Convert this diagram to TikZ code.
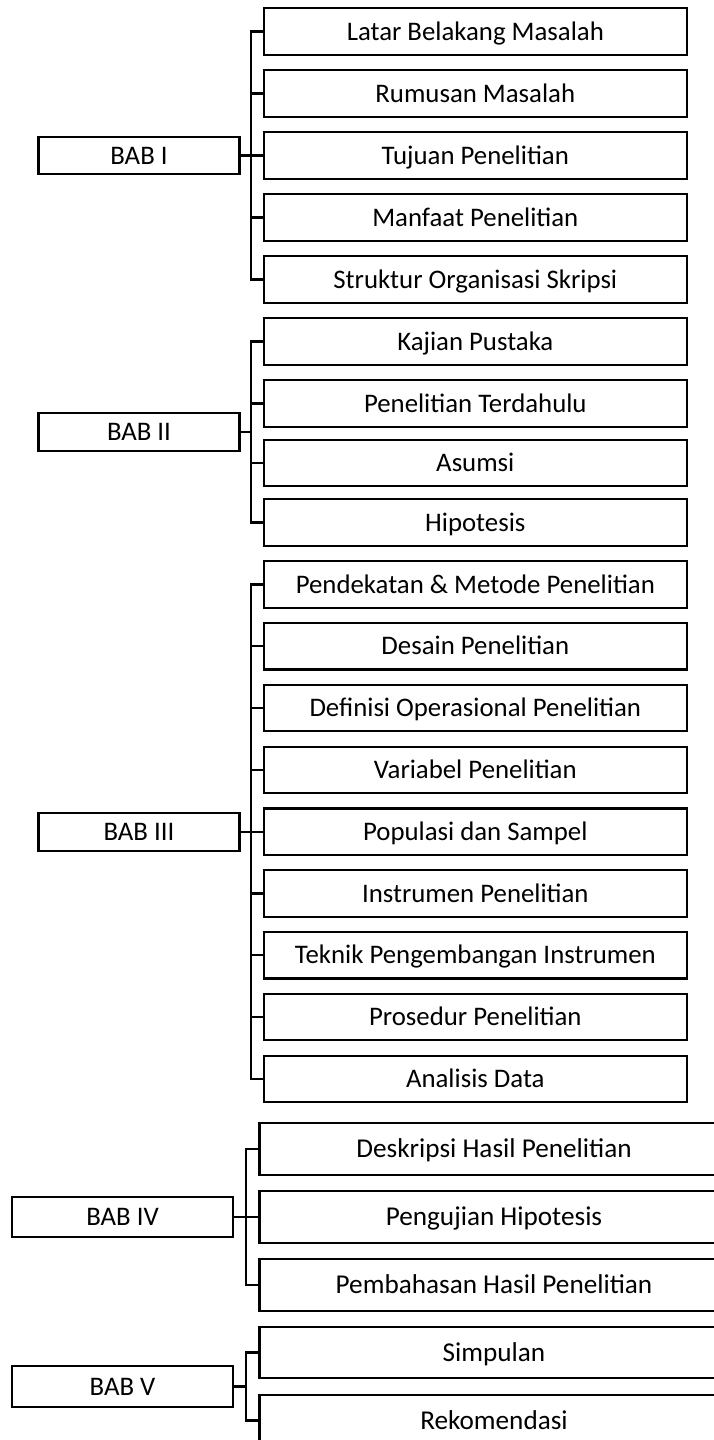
\documentclass[tikz,border=0pt]{standalone}
\usepackage{fontspec}
\setmainfont{Carlito}
\tikzset{
  babbox/.style={draw,line width=1.1pt,inner sep=0pt,minimum width=100.5pt,minimum height=18.75pt,text height=8.6pt,text depth=0pt,font=\fontsize{13.4}{15}\selectfont},
  babwide/.style={babbox,minimum width=110.5pt,minimum height=20.25pt},
  partbox/.style={draw,line width=1.1pt,inner sep=0pt,minimum width=211.7pt,minimum height=23.25pt,text height=8.6pt,text depth=0pt,font=\fontsize{13.4}{15}\selectfont},
  partwide/.style={partbox,minimum width=234.5pt,minimum height=25.75pt,text height=8.75pt,font=\fontsize{13.6}{15}\selectfont},
  link/.style={line width=1.1pt}
}
\begin{document}
\begin{tikzpicture}[x=0.5pt,y=-0.5pt]
\useasboundingbox (0,0) rectangle (713,1440);
\node[babbox] (bab1) at (139,155.5) {BAB I};
\foreach \t [count=\i] in {Latar Belakang Masalah,Rumusan Masalah,Tujuan Penelitian,Manfaat Penelitian,Struktur Organisasi Skripsi}
  \node[partbox] (p1-\i) at (475.3,{31.5+62*(\i-1)}) {\t};
\coordinate (j1) at (251,155.5);
\draw[link] (bab1) -- (j1);
\draw[link] (p1-1.west) -| (j1) |- (p1-5.west);
\foreach \i in {2,3,4} \draw[link] (p1-\i.west) -- (p1-\i.west -| j1);
\node[babbox] (bab2) at (139,432) {BAB II};
\foreach \y/\t [count=\i] in {341.5/Kajian Pustaka,403.5/Penelitian Terdahulu,463/Asumsi,522.5/Hipotesis}
  \node[partbox] (p2-\i) at (475.3,\y) {\t};
\coordinate (j2) at (251,432);
\draw[link] (bab2) -- (j2);
\draw[link] (p2-1.west) -| (j2) |- (p2-4.west);
\foreach \i in {2,3} \draw[link] (p2-\i.west) -- (p2-\i.west -| j2);
\node[babbox] (bab3) at (139,832) {BAB III};
\foreach \t [count=\i] in {Pendekatan \& Metode Penelitian,Desain Penelitian,Definisi Operasional Penelitian,Variabel Penelitian,Populasi dan Sampel,Instrumen Penelitian,Teknik Pengembangan Instrumen,Prosedur Penelitian,Analisis Data}
  \node[partbox] (p3-\i) at (475.3,{584.5+61.8*(\i-1)}) {\t};
\coordinate (j3) at (251,832);
\draw[link] (bab3) -- (j3);
\draw[link] (p3-1.west) -| (j3) |- (p3-9.west);
\foreach \i in {2,...,8} \draw[link] (p3-\i.west) -- (p3-\i.west -| j3);
\node[babwide] (bab4) at (122.5,1217) {BAB IV};
\foreach \t [count=\i] in {Deskripsi Hasil Penelitian,Pengujian Hipotesis,Pembahasan Hasil Penelitian}
  \node[partwide] (p4-\i) at (494,{1149+68*(\i-1)}) {\t};
\coordinate (j4) at (246,1217);
\draw[link] (bab4) -- (j4);
\draw[link] (p4-1.west) -| (j4) |- (p4-3.west);
\draw[link] (p4-2.west) -- (j4);
\node[babwide] (bab5) at (122.5,1386.5) {BAB V};
\foreach \t [count=\i] in {Simpulan,Rekomendasi}
  \node[partwide] (p5-\i) at (494,{1352.5+68*(\i-1)}) {\t};
\coordinate (j5) at (246,1386.5);
\draw[link] (bab5) -- (j5);
\draw[link] (p5-1.west) -| (j5) |- (p5-2.west);
\end{tikzpicture}
\end{document}
